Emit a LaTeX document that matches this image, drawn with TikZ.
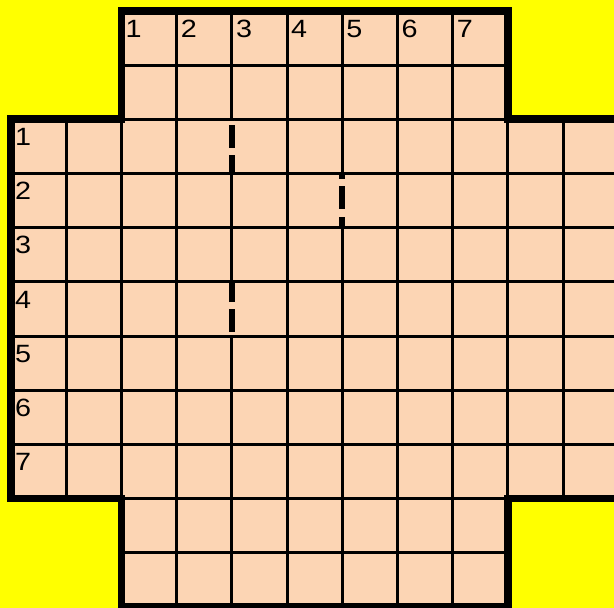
\documentclass[tikz,border=0pt]{standalone}
\usepackage{graphicx}
\usepackage{fontspec}
\setmainfont{Liberation Sans}
\definecolor{bgyellow}{RGB}{255,255,0}
\definecolor{peach}{RGB}{252,213,180}
\newcommand{\boardnum}[1]{\scalebox{1.15}[1]{\fontsize{25pt}{25pt}\selectfont #1}}
\tikzset{
  gridline/.style={line width=3pt, black},
  borderline/.style={line width=7.5pt, black, line join=miter, line cap=rect},
  wallgap/.style={line width=6.5pt, peach, line cap=butt},
  walldash/.style={line width=6pt, black, line cap=butt},
  lbl/.style={anchor=base west, inner sep=0pt}
}
\begin{document}
\begin{tikzpicture}
\fill[bgyellow] (0,0) rectangle (614pt,-608pt);
\useasboundingbox (0,0) rectangle (614pt,-608pt);
\begin{scope}[shift={(11pt,-10.8pt)}, x=55.2pt, y=-54.2pt]
  \path[fill=peach] (2,0) -- (9,0) -- (9,2) -- (11,2) -- (11,9) -- (9,9) -- (9,11)
    -- (2,11) -- (2,9) -- (0,9) -- (0,2) -- (2,2) -- cycle;
  \begin{scope}
    \clip (2,0) -- (9,0) -- (9,2) -- (11,2) -- (11,9) -- (9,9) -- (9,11)
      -- (2,11) -- (2,9) -- (0,9) -- (0,2) -- (2,2) -- cycle;
    \foreach \i in {0,...,11} {
      \draw[gridline] (\i,0) -- (\i,11);
      \draw[gridline] (0,\i) -- (11,\i);
    }
  \end{scope}
  % dashed walls
  \coordinate (a1) at (4,2);
  \draw[wallgap] ([yshift=-1.5pt]a1) -- ([yshift=-52.7pt]a1);
  \draw[walldash] ([yshift=-6pt]a1) -- ([yshift=-29pt]a1);
  \draw[walldash] ([yshift=-36pt]a1) -- ([yshift=-54.2pt]a1);
  \coordinate (b1) at (6,3);
  \draw[wallgap] ([yshift=-1.5pt]b1) -- ([yshift=-52.7pt]b1);
  \draw[walldash] ([yshift=0pt]b1) -- ([yshift=-5.6pt]b1);
  \draw[walldash] ([yshift=-12.6pt]b1) -- ([yshift=-35.6pt]b1);
  \draw[walldash] ([yshift=-43.6pt]b1) -- ([yshift=-54.2pt]b1);
  \coordinate (c1) at (4,5);
  \draw[wallgap] ([yshift=-1.5pt]c1) -- ([yshift=-52.7pt]c1);
  \draw[walldash] ([yshift=0pt]c1) -- ([yshift=-20.2pt]c1);
  \draw[walldash] ([yshift=-27.2pt]c1) -- ([yshift=-50.2pt]c1);
  % border
  \draw[borderline] (2,0) -- (9,0) -- (9,2) -- (11,2) -- (11,9) -- (9,9) -- (9,11)
    -- (2,11) -- (2,9) -- (0,9) -- (0,2) -- (2,2) -- cycle;
  % labels
  \foreach \n in {1,...,7} {
    \pgfmathtruncatemacro{\c}{\n+1}
    \node[lbl] (top\n) at ([xshift=4pt,yshift=-26.2pt]\c,0) {\boardnum{\n}};
    \node[lbl] (left\n) at ([xshift=4pt,yshift=-26.2pt]0,\c) {\boardnum{\n}};
  }
\end{scope}
\end{tikzpicture}
\end{document}
